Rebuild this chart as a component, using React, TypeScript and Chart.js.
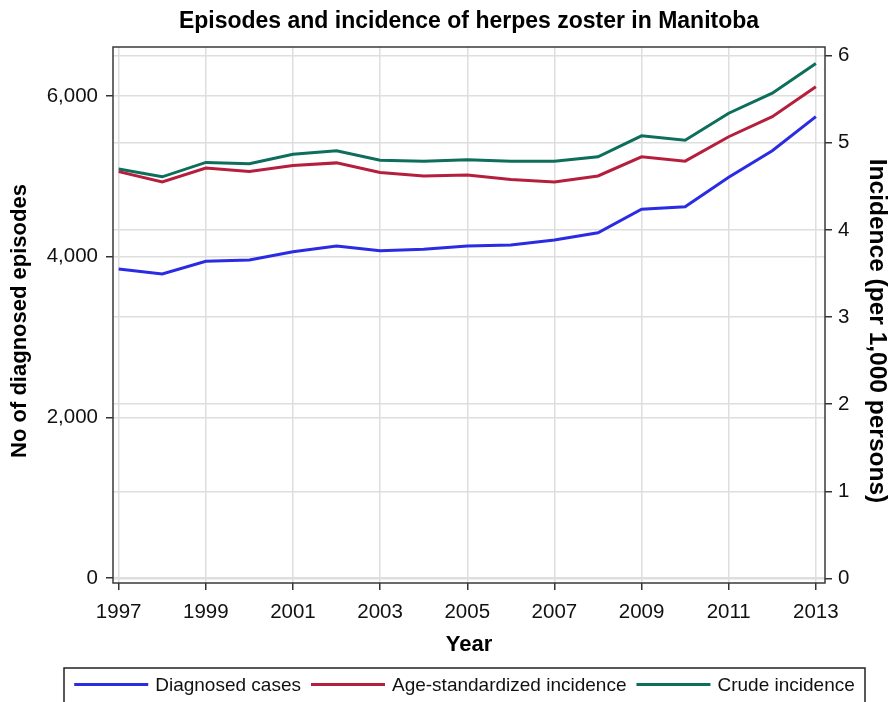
import React, { useEffect, useRef } from "react";
import { Chart, registerables } from "chart.js";

Chart.register(...registerables);

const FONT = '"Liberation Sans", Arial, Helvetica, sans-serif';

// ---- data ----
const YEARS = [1997, 1998, 1999, 2000, 2001, 2002, 2003, 2004, 2005, 2006, 2007, 2008, 2009, 2010, 2011, 2012, 2013];
const X_TICKS = [1997, 1999, 2001, 2003, 2005, 2007, 2009, 2011, 2013];
const LEFT_TICKS = [0, 2000, 4000, 6000];
const RIGHT_TICKS = [0, 1, 2, 3, 4, 5, 6];

const DIAGNOSED_CASES = [3847, 3784, 3942, 3959, 4062, 4133, 4074, 4092, 4133, 4145, 4208, 4298, 4590, 4622, 4988, 5319, 5743];
const AGE_STANDARDIZED = [4.67, 4.55, 4.71, 4.67, 4.74, 4.77, 4.66, 4.62, 4.63, 4.58, 4.55, 4.62, 4.84, 4.79, 5.07, 5.30, 5.645];
const CRUDE = [4.70, 4.61, 4.775, 4.76, 4.87, 4.91, 4.80, 4.79, 4.805, 4.79, 4.79, 4.84, 5.08, 5.03, 5.34, 5.57, 5.91];

const SERIES_LABELS = ["Diagnosed cases", "Age-standardized incidence", "Crude incidence"];
const SERIES_COLORS = ["#2b2be3", "#b51f3d", "#0d6e5b"];

const TITLE = "Episodes and incidence of herpes zoster in Manitoba";
const X_TITLE = "Year";
const LEFT_TITLE = "No of diagnosed episodes";
const RIGHT_TITLE = "Incidence (per 1,000 persons)";

const GRID = "#dedede";
const TICK_MARK = "#333333";

const framePlugin = {
  id: "frame",
  afterDatasetsDraw(chart: any) {
    const { ctx, chartArea: a } = chart;
    ctx.save();
    ctx.strokeStyle = "#3a3a3a";
    ctx.lineWidth = 1.5;
    ctx.strokeRect(a.left, a.top, a.right - a.left, a.bottom - a.top);
    ctx.restore();
  },
};

// chart title centred over the plot area, and the two vertical axis titles
const titlesPlugin = {
  id: "titles",
  afterDraw(chart: any) {
    const { ctx, chartArea: a } = chart;
    const cx = (a.left + a.right) / 2;
    const cy = (a.top + a.bottom) / 2;
    ctx.save();
    ctx.fillStyle = "#000";
    ctx.textAlign = "center";
    ctx.textBaseline = "middle";

    ctx.font = `bold 23px ${FONT}`;
    ctx.fillText(TITLE, cx, a.top - 25);

    ctx.save();
    ctx.translate(20, cy + 6);
    ctx.rotate(-Math.PI / 2);
    ctx.font = `bold 22px ${FONT}`;
    ctx.fillText(LEFT_TITLE, 0, 0);
    ctx.restore();

    ctx.save();
    ctx.translate(chart.width - 16, cy + 16);
    ctx.rotate(Math.PI / 2);
    ctx.font = `bold 24.5px ${FONT}`;
    ctx.fillText(RIGHT_TITLE, 0, 0);
    ctx.restore();

    ctx.restore();
  },
};

const legendPlugin = {
  id: "boxLegend",
  afterDraw(chart: any) {
    const ctx = chart.ctx;
    ctx.save();
    ctx.font = `19px ${FONT}`;
    const lineLen = 74;
    const gap = 7;
    const itemGap = 10;
    const items = chart.data.datasets.map((ds: any) => ({
      label: ds.label,
      color: ds.borderColor,
      w: ctx.measureText(ds.label).width,
    }));
    const total =
      items.reduce((s: number, it: any) => s + lineLen + gap + it.w, 0) + itemGap * (items.length - 1);
    const boxLeft = 64;
    const boxRight = 865;
    const boxTop = chart.height - 34;
    ctx.strokeStyle = "#222";
    ctx.lineWidth = 1.5;
    ctx.strokeRect(boxLeft, boxTop, boxRight - boxLeft, 60);
    let x = (boxLeft + boxRight) / 2 - total / 2;
    const y = boxTop + 16.5;
    items.forEach((it: any) => {
      ctx.strokeStyle = it.color;
      ctx.lineWidth = 3;
      ctx.beginPath();
      ctx.moveTo(x, y);
      ctx.lineTo(x + lineLen, y);
      ctx.stroke();
      x += lineLen + gap;
      ctx.fillStyle = "#111";
      ctx.textBaseline = "middle";
      ctx.textAlign = "left";
      ctx.fillText(it.label, x, y + 1);
      x += it.w + itemGap;
    });
    ctx.restore();
  },
};

export default function App() {
  const ref = useRef<HTMLCanvasElement | null>(null);

  useEffect(() => {
    if (!ref.current) return;
    Chart.defaults.font.family = FONT;
    Chart.defaults.color = "#111";

    const mk = (vals: number[]) => YEARS.map((yr, i) => ({ x: yr, y: vals[i] }));

    const chart = new Chart(ref.current, {
      type: "line",
      data: {
        datasets: [
          {
            label: SERIES_LABELS[0],
            data: mk(DIAGNOSED_CASES),
            borderColor: SERIES_COLORS[0],
            backgroundColor: SERIES_COLORS[0],
            borderWidth: 3,
            pointRadius: 0,
            tension: 0,
            yAxisID: "yLeft",
          },
          {
            label: SERIES_LABELS[1],
            data: mk(AGE_STANDARDIZED),
            borderColor: SERIES_COLORS[1],
            backgroundColor: SERIES_COLORS[1],
            borderWidth: 3,
            pointRadius: 0,
            tension: 0,
            yAxisID: "yRight",
          },
          {
            label: SERIES_LABELS[2],
            data: mk(CRUDE),
            borderColor: SERIES_COLORS[2],
            backgroundColor: SERIES_COLORS[2],
            borderWidth: 3,
            pointRadius: 0,
            tension: 0,
            yAxisID: "yRight",
          },
        ],
      },
      options: {
        responsive: false,
        animation: false,
        devicePixelRatio: 1,
        layout: { padding: { left: 0, right: 0, top: 47, bottom: 34 } },
        plugins: {
          legend: { display: false },
          tooltip: { enabled: false },
          title: { display: false },
        },
        scales: {
          x: {
            type: "linear",
            min: 1996.87,
            max: 2013.21,
            afterBuildTicks: (s: any) => {
              s.ticks = X_TICKS.map((v) => ({ value: v }));
            },
            afterFit: (s: any) => {
              s.height = 85;
            },
            border: { display: false },
            grid: {
              color: GRID,
              lineWidth: 1.5,
              drawTicks: true,
              tickLength: 7,
              tickColor: TICK_MARK,
              tickWidth: 1.5,
            },
            ticks: {
              autoSkip: false,
              maxRotation: 0,
              padding: 10,
              color: "#111",
              font: { size: 20.5, family: FONT },
              callback: (v: any) => String(v),
            },
            title: {
              display: true,
              text: X_TITLE,
              color: "#000",
              font: { size: 22, weight: "bold", family: FONT },
              padding: { top: 0, bottom: 10 },
            },
          },
          yLeft: {
            type: "linear",
            position: "left",
            min: -62,
            max: 6610,
            afterBuildTicks: (s: any) => {
              s.ticks = LEFT_TICKS.map((v) => ({ value: v }));
            },
            afterFit: (s: any) => {
              s.width = 113;
            },
            border: { display: false },
            grid: {
              color: GRID,
              lineWidth: 1.5,
              drawTicks: true,
              tickLength: 7,
              tickColor: TICK_MARK,
              tickWidth: 1.5,
            },
            ticks: {
              padding: 8,
              color: "#111",
              font: { size: 20.5, family: FONT },
              callback: (v: any) => Number(v).toLocaleString("en-US"),
            },
            title: { display: false },
          },
          yRight: {
            type: "linear",
            position: "right",
            min: -0.052,
            max: 6.1,
            afterBuildTicks: (s: any) => {
              s.ticks = RIGHT_TICKS.map((v) => ({ value: v }));
            },
            afterFit: (s: any) => {
              s.width = 68;
            },
            border: { display: false },
            grid: {
              color: GRID,
              lineWidth: 1.5,
              drawTicks: true,
              tickLength: 7,
              tickColor: TICK_MARK,
              tickWidth: 1.5,
            },
            ticks: {
              padding: 6,
              color: "#111",
              font: { size: 20.5, family: FONT },
              callback: (v: any) => String(v),
            },
            title: { display: false },
          },
        },
      },
      plugins: [framePlugin, titlesPlugin, legendPlugin],
    } as any);

    return () => chart.destroy();
  }, []);

  return (
    <div style={{ position: "fixed", left: 0, top: 0, width: 893, height: 702, background: "#fff" }}>
      <canvas ref={ref} width={893} height={702} style={{ display: "block" }} />
    </div>
  );
}
